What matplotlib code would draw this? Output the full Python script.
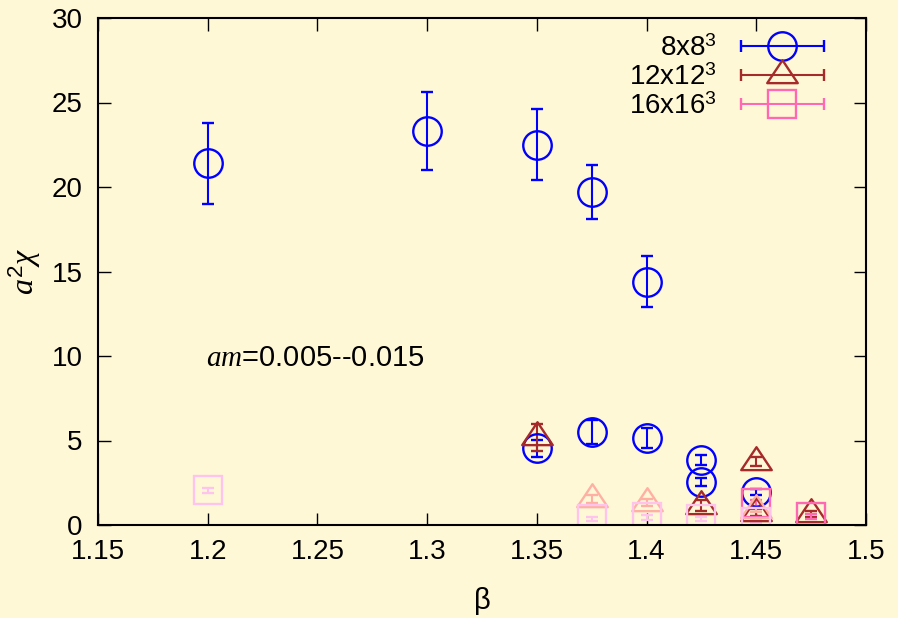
import numpy as np
import matplotlib.pyplot as plt
from matplotlib.path import Path
from matplotlib.container import ErrorbarContainer
from matplotlib.legend_handler import HandlerErrorbar

plt.rcParams['font.family'] = ['Liberation Sans', 'DejaVu Sans']
plt.rcParams['mathtext.fontset'] = 'custom'
plt.rcParams['mathtext.rm'] = 'Liberation Sans'
plt.rcParams['mathtext.it'] = 'Liberation Serif:italic'

# 8x8^3, upper branch (blue circles)
beta_8a = [1.2, 1.3, 1.35, 1.375, 1.4]
chi_8a = [21.4, 23.3, 22.5, 19.7, 14.4]
err_8a = [2.4, 2.3, 2.1, 1.6, 1.5]

# 8x8^3, lower branch
beta_8b = [1.35, 1.375, 1.4, 1.425, 1.425, 1.45]
chi_8b = [4.55, 5.5, 5.15, 3.85, 2.55, 1.95]
err_8b = [0.5, 0.7, 0.6, 0.3, 0.25, 0.2]

# 12x12^3 (dark red triangles)
beta_12 = [1.35, 1.425, 1.45, 1.45, 1.475]
chi_12 = [5.2, 1.15, 3.75, 0.72, 0.65]
err_12 = [0.8, 0.3, 0.25, 0.2, 0.15]

# 12x12^3, faded set
beta_12f = [1.375, 1.4, 1.45]
chi_12f = [1.54, 1.31, 0.9]
err_12f = [0.25, 0.2, 0.15]

# 16x16^3 (pink squares)
beta_16 = [1.45, 1.475]
chi_16 = [1.3, 0.5]
err_16 = [0.2, 0.15]

# 16x16^3, faded set
beta_16f = [1.2, 1.375, 1.4, 1.425, 1.45]
chi_16f = [2.05, 0.35, 0.45, 0.35, 0.2]
err_16f = [0.15, 0.1, 0.15, 0.1, 0.1]

xticks = [1.15, 1.2, 1.25, 1.3, 1.35, 1.4, 1.45, 1.5]
xtick_labels = ['1.15', '1.2', '1.25', '1.3', '1.35', '1.4', '1.45', '1.5']
yticks = [0, 5, 10, 15, 20, 25, 30]

bg = '#fff8d7'
blue = '#0000ff'
dred = '#a52a2a'
hpink = '#ff69b4'
salmon = '#ffb0a4'
lpink = '#ffc4ee'

# triangle centred on its centroid, like gnuplot's
tri = Path([(0, 1), (-1, -0.5), (1, -0.5), (0, 1)],
           [Path.MOVETO, Path.LINETO, Path.LINETO, Path.CLOSEPOLY])

fig = plt.figure(figsize=(8.98, 6.18), dpi=100, facecolor=bg)
ax = fig.add_axes([98 / 898, 1 - 525 / 618, 768 / 898, 507 / 618])
ax.set_facecolor(bg)


def draw(x, y, e, marker, ms, color, xerr=None, label=None):
    return ax.errorbar(x, y, yerr=e, xerr=xerr, marker=marker,
                       linestyle='none', ms=ms, mfc='none', mec=color, mew=1.7,
                       ecolor=color, elinewidth=1.5, capsize=4.5, capthick=1.5,
                       label=label)


draw(beta_8a, chi_8a, err_8a, 'o', 20.5, blue)
draw(beta_8b, chi_8b, err_8b, 'o', 20.5, blue)
draw(beta_12, chi_12, err_12, tri, 22, dred)
draw(beta_16, chi_16, err_16, 's', 20, hpink)
draw(beta_12f, chi_12f, err_12f, tri, 22, salmon)
draw(beta_16f, chi_16f, err_16f, 's', 20, lpink)

# legend proxies with horizontal bars, as in gnuplot
handles = []
for m, ms, c, lab in [('o', 20.5, blue, '8x$8^3$'),
                      (tri, 22, dred, '12x$12^3$'),
                      ('s', 20, hpink, '16x$16^3$')]:
    handles.append(draw([np.nan], [np.nan], None, m, ms, c,
                        xerr=[1], label=lab))
ax.legend(handles=handles, loc='upper right', bbox_to_anchor=(0.947, 0.966),
          frameon=False, markerfirst=False, fontsize=20, handlelength=3.1,
          handletextpad=0.8, labelspacing=0.1, borderpad=0, borderaxespad=0,
          handler_map={ErrorbarContainer: HandlerErrorbar(xerr_size=1.5)})

ax.text(1.199, 9.9, r'$am$=0.005--0.015', fontsize=21, va='center')

ax.set_xlim(1.15, 1.5)
ax.set_ylim(0, 30)
ax.set_xticks(xticks)
ax.set_xticklabels(xtick_labels)
ax.set_yticks(yticks)
ax.tick_params(direction='in', length=9, width=1, labelsize=20,
               top=True, right=True)
ax.tick_params(axis='x', pad=10)
ax.tick_params(axis='y', pad=11)
for s in ax.spines.values():
    s.set_linewidth(1.5)

ax.set_xlabel('β', fontsize=21, labelpad=16)
ax.set_ylabel(r'$a^2\chi$', fontsize=23, labelpad=6)

fig.savefig('out.png', dpi=100, facecolor=bg)
